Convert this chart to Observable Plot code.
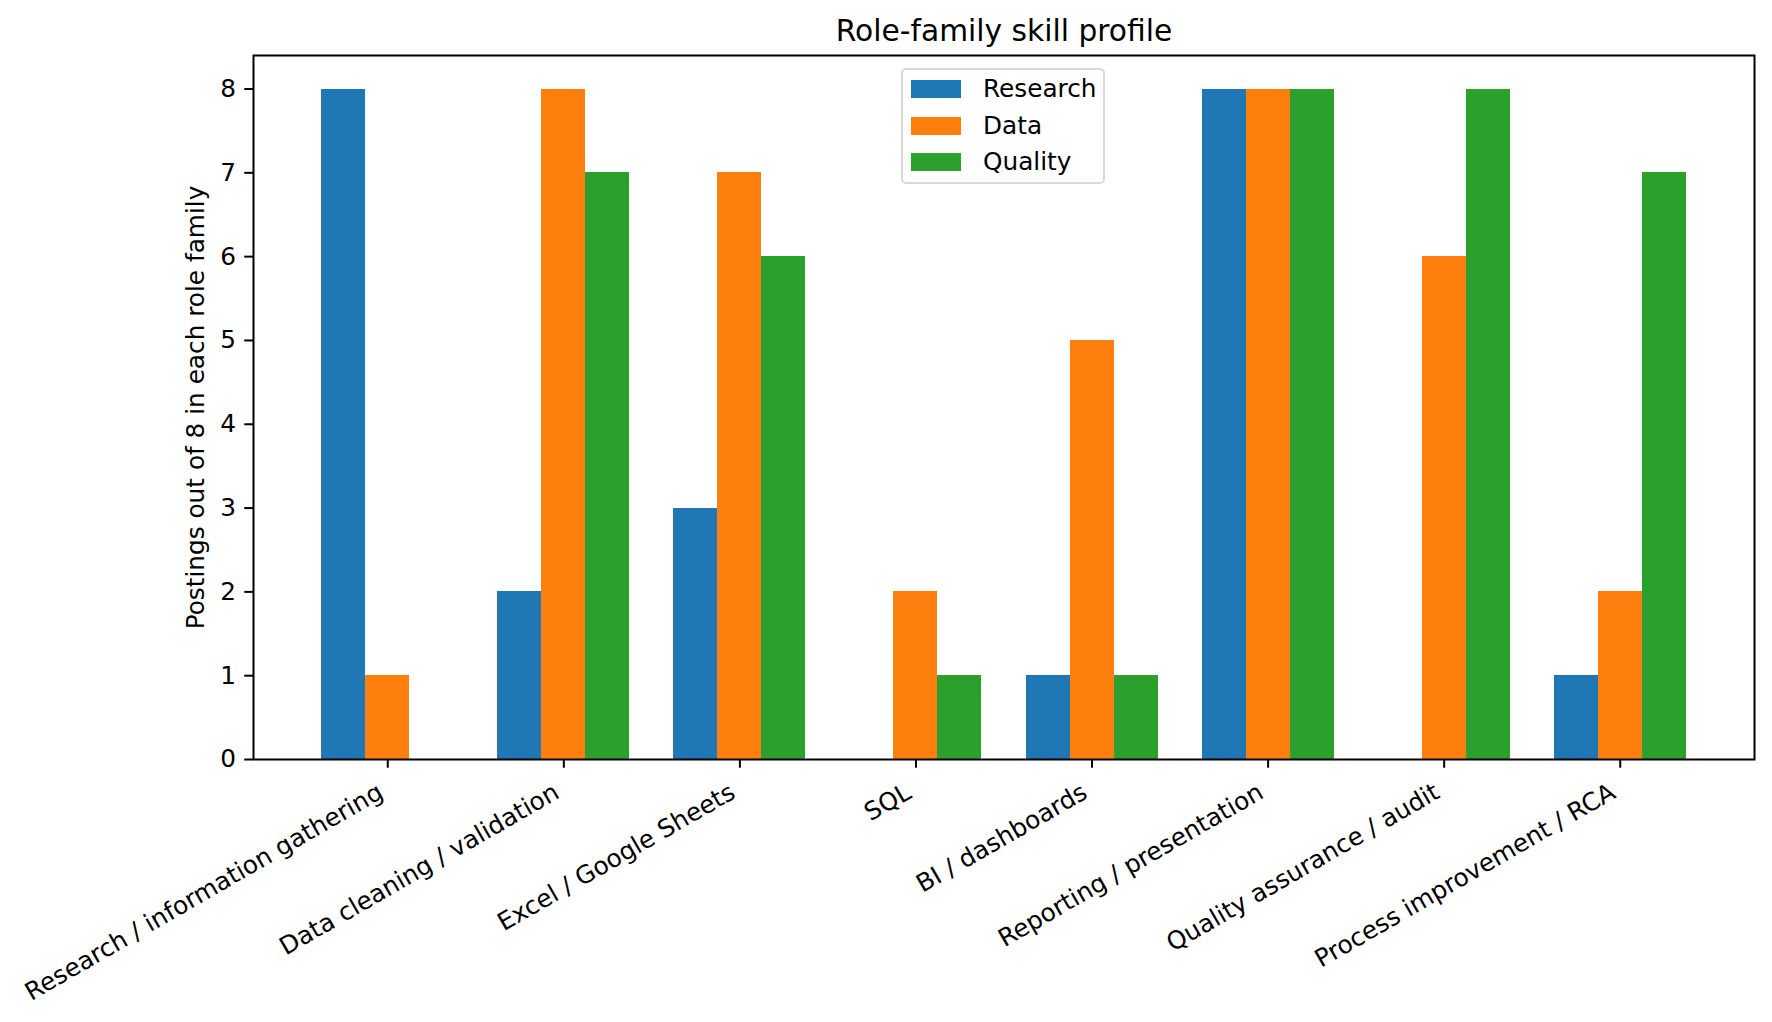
<!DOCTYPE html>
<html>
<head>
<meta charset="utf-8">
<script src="https://cdn.jsdelivr.net/npm/d3@7"></script>
<script src="https://cdn.jsdelivr.net/npm/@observablehq/plot@0.6"></script>
<style>
  html, body { margin: 0; padding: 0; background: #fff; }
  #wrap { position: relative; width: 1772px; height: 1022px; overflow: hidden; font-family: "DejaVu Sans", sans-serif; }
  #chart svg { display: block; }
  #legend {
    position: absolute; left: 901px; top: 68px; width: 204px; height: 116px;
    box-sizing: border-box; border: 2px solid #d9d9d9; border-radius: 5px;
    background: rgba(255,255,255,0.8); font-size: 24.75px; color: #000;
  }
  #legend .row { position: absolute; left: 8px; height: 18px; display: flex; align-items: center; }
  #legend .sw { width: 50px; height: 18px; margin-right: 22px; }
  #legend .lab { line-height: 18px; white-space: nowrap; }
</style>
</head>
<body>
<div id="wrap"><div id="chart"></div><div id="legend"></div></div>
<script>
// Skills (x categories) and the share of postings per role family
const skills = [
  "Research / information gathering",
  "Data cleaning / validation",
  "Excel / Google Sheets",
  "SQL",
  "BI / dashboards",
  "Reporting / presentation",
  "Quality assurance / audit",
  "Process improvement / RCA"
];
const families = ["Research", "Data", "Quality"];
const research = [8, 2, 3, 0, 1, 8, 0, 1];
const data = [1, 8, 7, 2, 5, 8, 6, 2];
const quality = [0, 7, 6, 1, 1, 8, 8, 7];
const colors = ["#1f77b4", "#ff7f0e", "#2ca02c"];
const yTicks = [0, 1, 2, 3, 4, 5, 6, 7, 8];

const series = [research, data, quality];
const barWidth = 0.25;

// one row per (skill, family) bar, centred around the skill index
const rows = skills.flatMap((skill, i) =>
  families.map((fam, s) => ({
    skill, fam, value: series[s][i],
    x1: i + (s - 1) * barWidth - barWidth / 2,
    x2: i + (s - 1) * barWidth + barWidth / 2
  }))
);

const fontSize = 24.75;

const chart = Plot.plot({
  width: 1772,
  height: 1022,
  marginLeft: 253,
  marginRight: 18,
  marginTop: 55,
  marginBottom: 263,
  style: { fontFamily: "DejaVu Sans, sans-serif", fontSize: `${fontSize}px`, color: "#000", background: "#fff" },
  x: { type: "linear", domain: [-0.7625, skills.length - 1 + 0.7625] },
  y: { domain: [0, 8.4] },
  color: { domain: families, range: colors },
  marks: [
    Plot.rectY(rows, { x1: "x1", x2: "x2", y1: 0, y2: "value", fill: "fam", shapeRendering: "crispEdges" }),
    Plot.axisY({ ticks: yTicks, tickSize: 8.75, tickPadding: 8.75, strokeWidth: 2, fontSize, label: null }),
    Plot.axisX({ ticks: d3.range(skills.length), tickSize: 8.75, strokeWidth: 2, text: null, label: null }),
    Plot.text(skills, {
      x: (d, i) => i, text: d => d, frameAnchor: "bottom",
      rotate: -30, textAnchor: "end", lineAnchor: "bottom",
      dx: -3, dy: 37.5, fontSize, fill: "#000"
    }),
    Plot.text(["Postings out of 8 in each role family"], {
      text: d => d, frameAnchor: "left", rotate: -90, textAnchor: "middle",
      lineAnchor: "bottom", dx: -50, fontSize, fill: "#000"
    }),
    Plot.text(["Role-family skill profile"], {
      text: d => d, frameAnchor: "top", textAnchor: "middle",
      lineAnchor: "bottom", dy: -15, fontSize: 29.7, fill: "#000"
    }),
    Plot.frame({ stroke: "#000", strokeWidth: 2 })
  ]
});
document.getElementById("chart").appendChild(chart);

// legend box: one swatch per role family
const legend = d3.select("#legend");
families.forEach((fam, s) => {
  const row = legend.append("div").attr("class", "row").style("top", `${10 + s * 36.5}px`);
  row.append("div").attr("class", "sw").style("background", colors[s]);
  row.append("div").attr("class", "lab").text(fam);
});
</script>
</body>
</html>
